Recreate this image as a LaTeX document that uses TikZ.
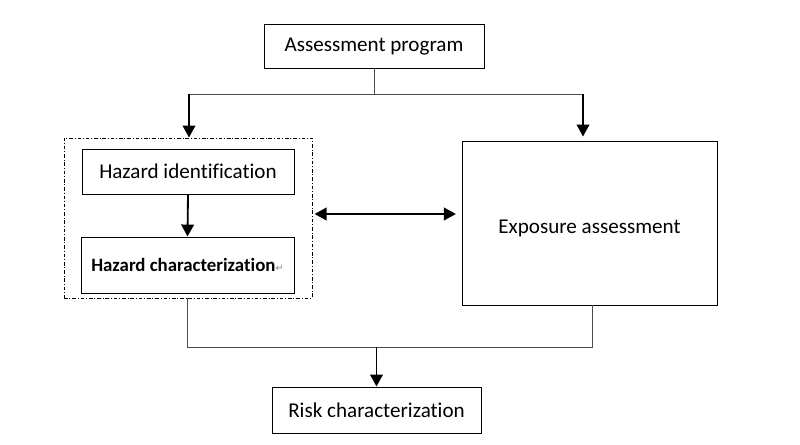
\documentclass[tikz,border=0pt]{standalone}
\usepackage{fontspec}
\setmainfont[Ligatures=NoCommon]{Carlito}
\newfontfamily\symfont{DejaVu Sans}
\usetikzlibrary{arrows.meta}

\tikzset{
  box/.style={draw,line width=0.7pt,inner sep=0pt,align=center,font=\fontsize{15}{17}\selectfont},
  link/.style={line width=0.7pt,draw=black!70},
  tip/.tip={Triangle[width=9pt,length=8.5pt]},
  flow/.style={line width=1.3pt,-tip}
}

\begin{document}
\begin{tikzpicture}[x=0.025cm,y=-0.025cm,line cap=butt,line join=miter]
  \useasboundingbox (0,0) rectangle (800,445);
  % boxes
  \node[box,minimum width=220*0.025cm,minimum height=44*0.025cm] (prog) at (374,46) {\raisebox{-0.15cm}[0pt][0pt]{Assessment program}};
  \node[draw,line width=0.7pt,dash pattern=on 2.6pt off 1.3pt on 0.7pt off 1.3pt,
        minimum width=248*0.025cm,minimum height=160*0.025cm,inner sep=0pt] (grp) at (188,218) {};
  \node[box,minimum width=212*0.025cm,minimum height=45*0.025cm] (hid) at (188,171.5) {Hazard identification};
  \node[box,minimum width=213*0.025cm,minimum height=56*0.025cm,font=\fontsize{13.4}{15}\selectfont\bfseries]
    (hch) at (187.5,265) {Hazard characterization\textcolor{black!45}{\symfont\fontsize{7}{8}\selectfont\mdseries ↵}};
  \node[box,minimum width=255*0.025cm,minimum height=164*0.025cm] (expo) at (589.5,223) {\raisebox{-0.27cm}[0pt][0pt]{Exposure assessment}};
  \node[box,minimum width=209*0.025cm,minimum height=46*0.025cm] (risk) at (376.5,410) {Risk characterization};
  % top split
  \coordinate (tl) at (189,94);
  \coordinate (tr) at (583,94);
  \draw[link] (prog.south) -- (prog.south |- tl);
  \draw[link] (tl) -- (tr);
  \draw[flow] (tl) -- (tl |- grp.north);
  \draw[flow] (tr) -- ([yshift=0.1cm]tr |- expo.north);
  % inside group
  \draw[flow] (hid.south) -- (hch.north);
  \draw[line width=1.3pt,tip-tip,shorten <=1.5pt,shorten >=4pt]
    ([yshift=0.1cm]grp.east) -- ([yshift=0.1cm]grp.east -| expo.west);
  % bottom join
  \coordinate (bl) at (187,347);
  \coordinate (br) at (592,347);
  \draw[link] (grp.south -| bl) -- (bl) -- (br) -- (expo.south -| br);
  \draw[flow] (bl -| risk.north) -- (risk.north);
\end{tikzpicture}
\end{document}
